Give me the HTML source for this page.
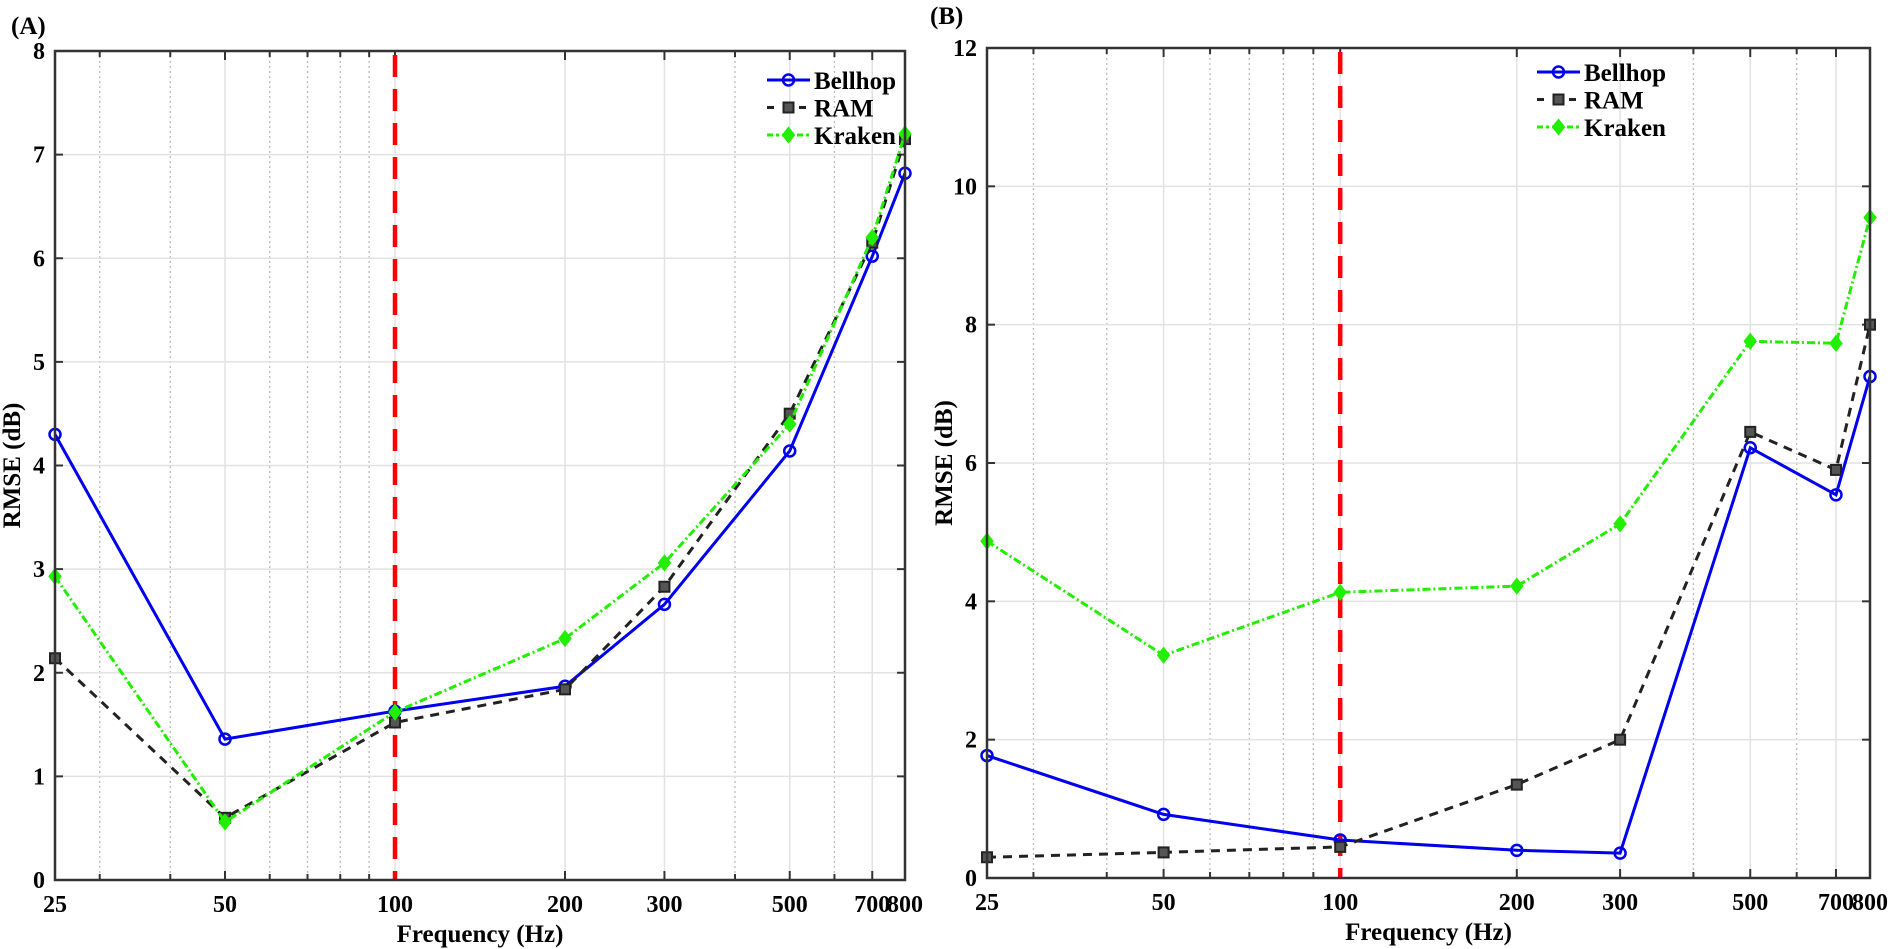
<!DOCTYPE html>
<html><head><meta charset="utf-8"><style>
html,body{margin:0;padding:0;background:#fff}
svg{display:block;font-family:"Liberation Serif",serif;font-weight:bold}
</style></head><body>
<svg id="s" width="1890" height="949" xmlns="http://www.w3.org/2000/svg"></svg>
<script>
const s=document.getElementById('s');let h='';
const F=[25,50,100,200,300,500,700,800];
function panel(L,R,T,B,ymax,data,leg,lab,labx,laby){
 const lx=f=>L+(R-L)*Math.log(f/25)/Math.log(32);
 const ly=v=>B-(B-T)*v/ymax;
 const minor=[30,40,60,70,80,90,400,600];
 minor.forEach(f=>{const x=lx(f);h+=`<line x1="${x}" y1="${T}" x2="${x}" y2="${B}" stroke="#bbb" stroke-width="1.3" stroke-dasharray="2,3"/>`;});
 F.forEach(f=>{const x=lx(f);h+=`<line x1="${x}" y1="${T}" x2="${x}" y2="${B}" stroke="#e2e2e2" stroke-width="1.5"/>`;});
 const step=ymax==8?1:2;
 for(let v=0;v<=ymax;v+=step){const y=ly(v);h+=`<line x1="${L}" y1="${y}" x2="${R}" y2="${y}" stroke="#e2e2e2" stroke-width="1.5"/>`;
  h+=`<line x1="${L}" y1="${y}" x2="${L+8}" y2="${y}" stroke="#333" stroke-width="2"/><line x1="${R}" y1="${y}" x2="${R-8}" y2="${y}" stroke="#333" stroke-width="2"/>`;
  h+=`<text x="${L-10}" y="${y+8}" font-size="24" text-anchor="end">${v}</text>`;}
 F.concat(minor).forEach(f=>{const x=lx(f),k=F.includes(f)?9:6;h+=`<line x1="${x}" y1="${B}" x2="${x}" y2="${B-k}" stroke="#333" stroke-width="2"/><line x1="${x}" y1="${T}" x2="${x}" y2="${T+k}" stroke="#333" stroke-width="2"/>`;});
 F.forEach(f=>{h+=`<text x="${lx(f)}" y="${B+32}" font-size="24" text-anchor="middle">${f}</text>`;});
 h+=`<line x1="${lx(100)}" y1="${T+4}" x2="${lx(100)}" y2="${B}" stroke="#f00" stroke-width="4.5" stroke-dasharray="22,12"/>`;
 const st=[{c:'#0000ee',d:'',m:'o'},{c:'#222',d:'9,7',m:'s'},{c:'#22ee00',d:'8,3,2,3',m:'d'}];
 data.forEach((ser,i)=>{const p=ser.map((v,j)=>`${lx(F[j]).toFixed(1)},${ly(v).toFixed(1)}`).join(' ');
  h+=`<polyline points="${p}" fill="none" stroke="${st[i].c}" stroke-width="3" stroke-dasharray="${st[i].d}"/>`;
  ser.forEach((v,j)=>h+=mk(st[i],lx(F[j]),ly(v)));});
 function mk(o,x,y){if(o.m=='o')return `<circle cx="${x}" cy="${y}" r="5.5" fill="none" stroke="${o.c}" stroke-width="2.5"/>`;
  if(o.m=='s')return `<rect x="${x-5}" y="${y-5}" width="10" height="10" fill="#555" stroke="#222" stroke-width="2"/>`;
  return `<polygon points="${x},${y-7} ${x+5.5},${y} ${x},${y+7} ${x-5.5},${y}" fill="#22ee00" stroke="#22ee00" stroke-width="2"/>`;}
 h+=`<rect x="${L}" y="${T}" width="${R-L}" height="${B-T}" fill="none" stroke="#333" stroke-width="2.5"/>`;
 const names=['Bellhop','RAM','Kraken'];
 names.forEach((n,i)=>{const y=leg[1]+i*27.5,x=leg[0];
  h+=`<line x1="${x}" y1="${y}" x2="${x+43}" y2="${y}" stroke="${st[i].c}" stroke-width="3" stroke-dasharray="${i==1?'7,9':i==2?'6,3,3,3':''}"/>`+mk(st[i],x+21.5,y);
  h+=`<text x="${x+47}" y="${y+9}" font-size="25">${n}</text>`;});
 h+=`<text x="${(L+R)/2}" y="${B+62}" font-size="25" text-anchor="middle">Frequency (Hz)</text>`;
 h+=`<text transform="translate(${L-35},${(T+B)/2}) rotate(-90)" font-size="25" text-anchor="middle">RMSE (dB)</text>`;
 h+=`<text x="${labx}" y="${laby}" font-size="25">${lab}</text>`;
}
panel(55,905,51,880,8,[[4.3,1.36,1.63,1.87,2.66,4.14,6.02,6.82],[2.14,0.6,1.52,1.84,2.83,4.5,6.15,7.15],[2.93,0.56,1.62,2.33,3.06,4.4,6.2,7.2]],[767,80],'(A)',11,34);
panel(987,1870,48,878,12,[[1.77,0.92,0.55,0.4,0.36,6.22,5.54,7.25],[0.3,0.37,0.45,1.35,2.0,6.45,5.9,8.0],[4.87,3.22,4.13,4.22,5.12,7.76,7.73,9.55]],[1537,72],'(B)',930,24);
s.innerHTML=h;
</script>
</body></html>
